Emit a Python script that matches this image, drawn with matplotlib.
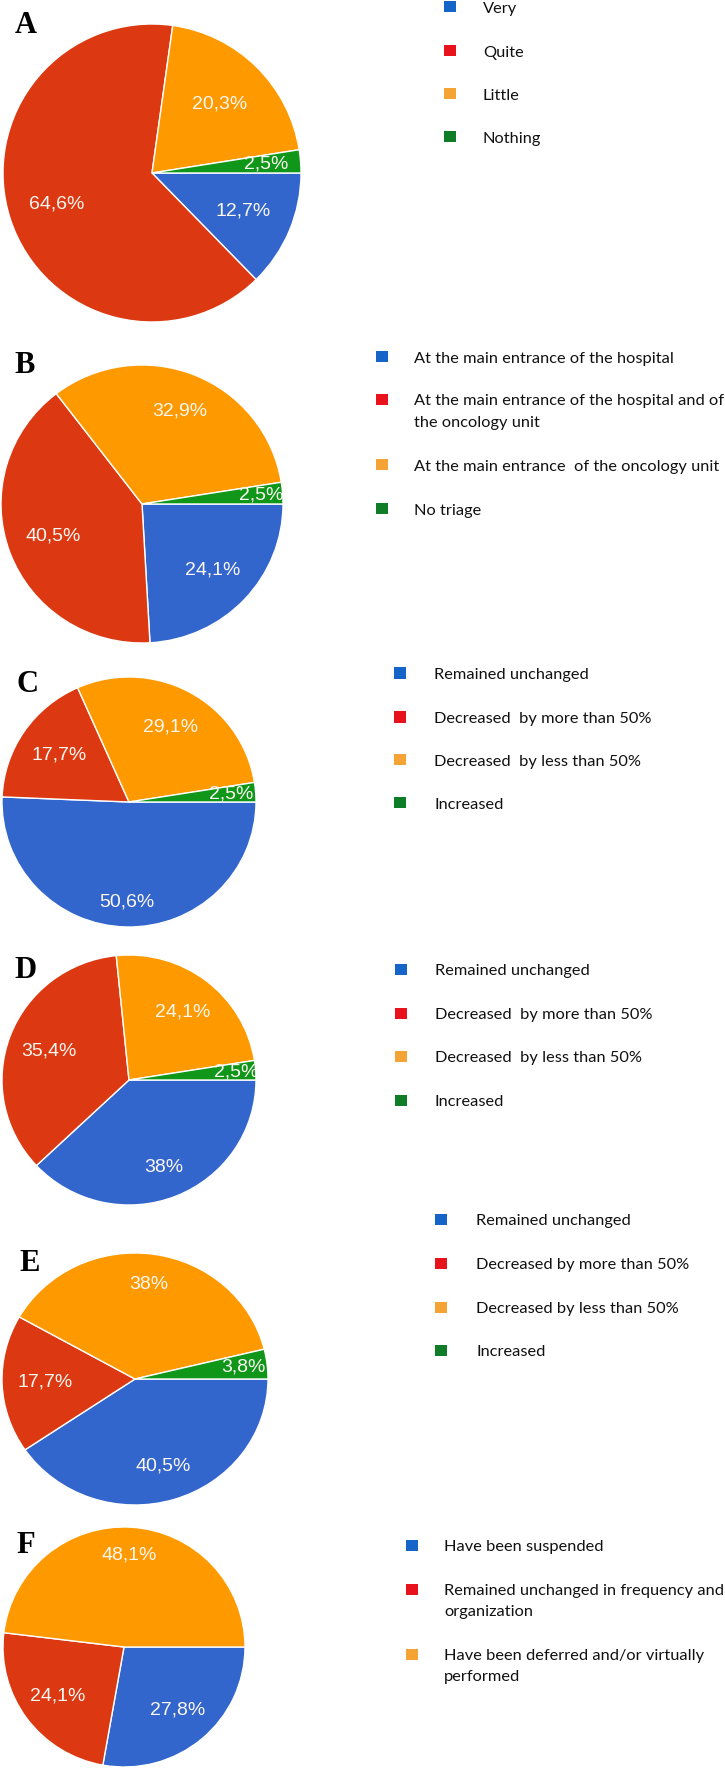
import matplotlib
matplotlib.use("Agg")
import matplotlib.pyplot as plt
from matplotlib.patches import Rectangle
import numpy as np

# ---------------- data ----------------
A_categories = ["Very", "Quite", "Little", "Nothing"]
A_values = [12.7, 64.6, 20.3, 2.5]

B_categories = ["At the main entrance of the hospital",
                "At the main entrance of the hospital and of\nthe oncology unit",
                "At the main entrance  of the oncology unit",
                "No triage"]
B_values = [24.1, 40.5, 32.9, 2.5]

C_categories = ["Remained unchanged", "Decreased  by more than 50%",
                "Decreased  by less than 50%", "Increased"]
C_values = [50.6, 17.7, 29.1, 2.5]

D_categories = ["Remained unchanged", "Decreased  by more than 50%",
                "Decreased  by less than 50%", "Increased"]
D_values = [38, 35.4, 24.1, 2.5]

E_categories = ["Remained unchanged", "Decreased by more than 50%",
                "Decreased by less than 50%", "Increased"]
E_values = [40.5, 17.7, 38, 3.8]

F_categories = ["Have been suspended",
                "Remained unchanged in frequency and\norganization",
                "Have been deferred and/or virtually\nperformed"]
F_values = [27.8, 24.1, 48.1]

# ---------------- style / layout ----------------
W, H, DPI = 725, 1769, 100
PIE_COLORS = ["#3366cc", "#dc3912", "#ff9900", "#109618"]
LEG_COLORS = ["#1565c8", "#e8121c", "#f5a334", "#0f7d27"]
LEGEND_FONT = ["Lato", "DejaVu Sans"]
LINE_GAP = 21.5

fig = plt.figure(figsize=(W / DPI, H / DPI), dpi=DPI)
fig.patch.set_facecolor("white")

# fit the legend font so that the reference line has its measured width (259 px)
_renderer = fig.canvas.get_renderer()
_probe = fig.text(0, 0, "At the main entrance of the hospital", fontsize=12,
                  family=LEGEND_FONT)
_w = _probe.get_window_extent(_renderer).width
_probe.remove()
LEGEND_SIZE = 12 * 259.0 / _w


def fx(x):
    return x / W


def fy(y):
    return 1 - y / H


def pct(v):
    s = f"{v:.1f}".rstrip("0").rstrip(".")
    return s.replace(".", ",") + "%"


def draw_panel(letter, letter_xy, values, categories, geom, label_r,
               leg_mx, leg_tx, rows):
    cx, cy, rx, ry = geom
    ax = fig.add_axes([fx(cx - rx), fy(cy + ry), 2 * rx / W, 2 * ry / H])
    wedges, _ = ax.pie(values, colors=PIE_COLORS[:len(values)], startangle=0,
                       counterclock=False, radius=1.0,
                       wedgeprops=dict(edgecolor="white", linewidth=1.0))
    for w in wedges:
        w.set_clip_on(False)
    ax.set_aspect("auto")
    ax.set_xlim(-1, 1)
    ax.set_ylim(-1, 1)
    ax.axis("off")
    for w, v, d in zip(wedges, values, label_r):
        th = np.deg2rad((w.theta1 + w.theta2) / 2)
        ax.text(d * np.cos(th), d * np.sin(th), pct(v), ha="center",
                va="center", color="#fbf7f2", fontsize=14,
                family=["Liberation Sans", "DejaVu Sans"], clip_on=True)
    # panel letter
    fig.text(fx(letter_xy[0]), fy(letter_xy[1]), letter,
             family=["Liberation Serif", "DejaVu Serif"], weight="bold",
             fontsize=22, va="baseline", ha="left")
    # legend
    for i, cat in enumerate(categories):
        y = rows[i]
        fig.patches.append(Rectangle((fx(leg_mx - 6), fy(y + 5.5)), 12 / W, 11 / H,
                                     transform=fig.transFigure, figure=fig,
                                     facecolor=LEG_COLORS[i], edgecolor="none"))
        for j, line in enumerate(cat.split("\n")):
            fig.text(fx(leg_tx), fy(y + j * LINE_GAP + 5.5), line, ha="left",
                     va="baseline", fontsize=LEGEND_SIZE, family=LEGEND_FONT,
                     color="#111111")


draw_panel("A", (15, 33), A_values, A_categories, (152, 173, 149, 149),
           [0.66, 0.67, 0.65, 0.77], 450, 483, [7, 51, 94, 137])
draw_panel("B", (14, 373), B_values, B_categories, (142, 504, 141, 139),
           [0.69, 0.67, 0.72, 0.85], 382, 414, [357, 400, 465, 509])
draw_panel("C", (16, 692), C_values, C_categories, (129, 802, 127, 125),
           [0.80, 0.67, 0.68, 0.81], 400, 434, [673, 717, 760, 803])
draw_panel("D", (14, 978), D_values, D_categories, (129, 1080, 127, 125),
           [0.75, 0.67, 0.69, 0.85], 401, 435, [970, 1013, 1056, 1100])
draw_panel("E", (19, 1271), E_values, E_categories, (135, 1379, 133, 126),
           [0.72, 0.68, 0.76, 0.82], 441, 476, [1219, 1263, 1307, 1350])
draw_panel("F", (16, 1553), F_values, F_categories, (124, 1647, 121, 120),
           [0.69, 0.68, 0.77], 412, 444, [1545, 1589, 1654])

fig.savefig("out.png", dpi=DPI, facecolor="white")
